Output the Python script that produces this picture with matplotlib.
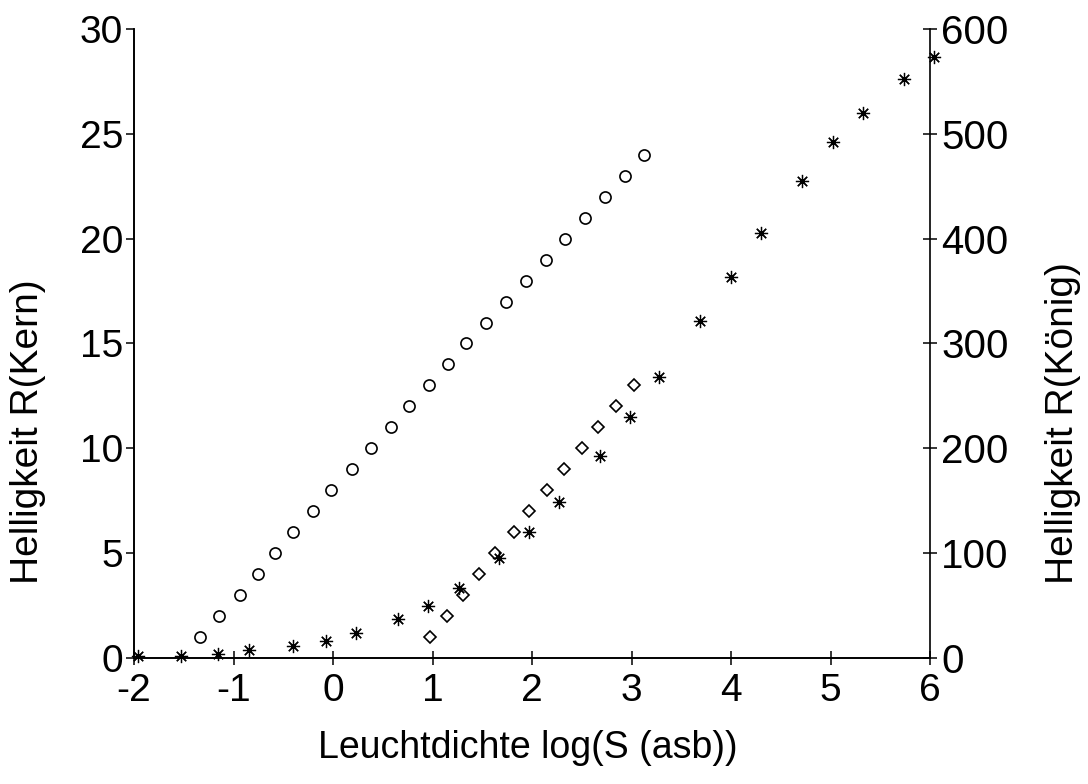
# Helligkeit nach Kern und König über der Leuchtdichte
import matplotlib
matplotlib.use("Agg")
import matplotlib.pyplot as plt

plt.rcParams["font.family"] = ["Liberation Sans", "DejaVu Sans"]
plt.rcParams["axes.unicode_minus"] = False

# Kern, Kreise (linke Achse)
kern_kreis_x = [-1.34, -1.15, -0.94, -0.75, -0.58, -0.40, -0.20, -0.02, 0.19, 0.38,
                0.58, 0.76, 0.96, 1.16, 1.34, 1.54, 1.74, 1.94, 2.14, 2.33,
                2.53, 2.73, 2.93, 3.13]
kern_kreis_y = [1, 2, 3, 4, 5, 6, 7, 8, 9, 10, 11, 12, 13, 14, 15, 16, 17, 18,
                19, 20, 21, 22, 23, 24]

# Kern, Rauten (linke Achse)
kern_raute_x = [0.97, 1.15, 1.31, 1.47, 1.63, 1.82, 1.97, 2.15, 2.32, 2.50,
                2.66, 2.84, 3.02]
kern_raute_y = [1, 2, 3, 4, 5, 6, 7, 8, 9, 10, 11, 12, 13]

# König, Sterne (rechte Achse)
koenig_x = [-1.96, -1.53, -1.16, -0.84, -0.40, -0.07, 0.23, 0.65, 0.95, 1.27,
            1.67, 1.97, 2.27, 2.68, 2.98, 3.28, 3.69, 4.00, 4.30, 4.71,
            5.02, 5.33, 5.74, 6.04]
koenig_y = [2, 2, 4, 8, 11, 16, 24, 37, 50, 67, 95, 120, 149, 193, 230, 268,
            321, 363, 405, 455, 492, 520, 552, 573]

fig = plt.figure(figsize=(10.88, 7.84), dpi=100)
ax = fig.add_axes([0.1232, 0.1607, 0.7316, 0.8024])
ax2 = ax.twinx()

ax.plot(kern_kreis_x, kern_kreis_y, linestyle="none", marker="o", markersize=8,
        markerfacecolor="none", markeredgecolor="black", markeredgewidth=1.2)
ax.plot(kern_raute_x, kern_raute_y, linestyle="none", marker="D", markersize=6.2,
        markerfacecolor="none", markeredgecolor="black", markeredgewidth=1.2)
ax2.plot(koenig_x, koenig_y, linestyle="none", marker=(8, 2, 0), markersize=9.5,
         markeredgecolor="black", markeredgewidth=0.9, clip_on=False)

ax.set_xlim(-2, 6)
ax.set_ylim(0, 30)
ax2.set_ylim(0, 600)
ax.set_xticks(range(-2, 7))
ax.set_yticks(range(0, 31, 5))
ax2.set_yticks(range(0, 601, 100))

for a in (ax, ax2):
    a.spines["top"].set_visible(False)
    for s in a.spines.values():
        s.set_linewidth(1.2)
ax.spines["right"].set_visible(False)

ax.tick_params(axis="y", direction="out", length=6, width=1.1, labelsize=28, pad=2)
ax.tick_params(axis="x", direction="inout", length=10, width=1.1, labelsize=28, pad=6)
ax2.tick_params(axis="y", direction="inout", length=10, width=1.1, labelsize=29, pad=3)

ax.set_xlabel("Leuchtdichte log(S (asb))", fontsize=27)
ax.set_ylabel("Helligkeit R(Kern)", fontsize=28)
ax2.set_ylabel("Helligkeit R(König)", fontsize=28)
ax.xaxis.set_label_coords(0.495, -0.115)
ax.yaxis.set_label_coords(-0.111, 0.36)
ax2.yaxis.set_label_coords(1.1445, 0.373)

fig.savefig("out.png", dpi=100)
